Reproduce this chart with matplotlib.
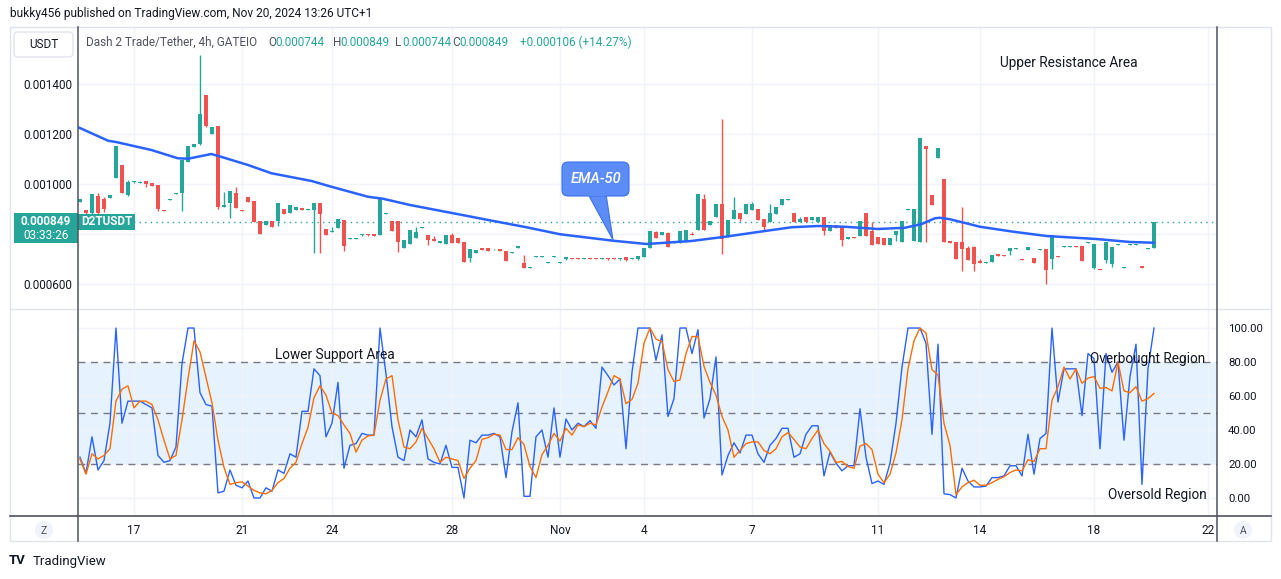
import numpy as np
import matplotlib
matplotlib.use("Agg")
import matplotlib.pyplot as plt
from matplotlib.patches import Rectangle, FancyBboxPatch, Polygon, Circle

plt.rcParams['font.family'] = ['Roboto', 'DejaVu Sans']

# D2T/USDT 4h candles, prices in millionths of USDT
opens = [929, 896, 883, 952, 940, 945, 1025, 1076, 956, 1007,
         1005, 1011, 1003, 996, 896, 937, 961, 965, 1089, 1149,
         1160, 1356, 1201, 1232, 909, 925, 963, 896, 948, 932,
         852, 837, 851, 851, 900, 884, 897, 903, 896, 897,
         924, 820, 809, 825, 857, 781, 781, 795, 800, 799,
         796, 881, 852, 852, 745, 761, 785, 824, 796, 780,
         765, 761, 796, 785, 769, 705, 725, 743, 744, 739,
         740, 732, 725, 745, 684, 665, 709, 709, 685, 709,
         685, 699, 705, 705, 701, 705, 705, 701, 705, 705,
         699, 707, 701, 699, 709, 745, 808, 797, 803, 764,
         765, 769, 800, 817, 941, 836, 869, 920, 788, 861,
         884, 881, 896, 900, 860, 849, 881, 917, 937, 884,
         849, 868, 856, 849, 868, 813, 836, 832, 781, 788,
         792, 884, 812, 788, 784, 757, 796, 769, 897, 773,
         769, 1152, 956, 1104, 1020, 772, 768, 768, 744, 748,
         692, 685, 689, 720, 716, 733, 741, 700, 737, 704,
         737, 740, 701, 712, 748, 748, 752, 752, 765, 665,
         660, 696, 680, 757, 665, 757, 757, 672, 741, 744]
highs = [942, 898, 962, 963, 949, 957, 1153, 1078, 1016, 1012,
         1011, 1012, 1004, 997, 897, 941, 965, 1097, 1153, 1161,
         1516, 1357, 1229, 1233, 967, 973, 989, 897, 949, 933,
         853, 853, 852, 925, 901, 917, 909, 904, 900, 925,
         925, 821, 827, 861, 858, 785, 785, 800, 801, 800,
         945, 885, 853, 853, 777, 817, 827, 828, 797, 793,
         774, 797, 804, 786, 770, 741, 737, 746, 745, 742,
         741, 733, 729, 753, 716, 669, 713, 713, 689, 713,
         689, 709, 706, 706, 706, 706, 706, 706, 706, 706,
         706, 708, 706, 713, 746, 813, 812, 809, 808, 767,
         813, 817, 808, 961, 960, 853, 921, 1260, 857, 947,
         885, 921, 928, 901, 861, 920, 909, 941, 941, 885,
         868, 869, 869, 869, 869, 837, 837, 833, 789, 789,
         853, 885, 848, 789, 785, 785, 813, 853, 901, 901,
         1185, 1153, 957, 1145, 1021, 773, 769, 908, 752, 752,
         700, 689, 717, 721, 717, 745, 745, 701, 749, 705,
         741, 741, 797, 713, 752, 752, 753, 753, 769, 761,
         661, 769, 749, 761, 669, 761, 761, 673, 745, 849]
lows = [927, 881, 881, 881, 889, 944, 1024, 963, 952, 1006,
        1004, 989, 992, 893, 892, 936, 960, 893, 1088, 1148,
        1158, 1230, 1200, 899, 908, 863, 904, 892, 928, 848,
        800, 836, 828, 833, 880, 883, 896, 896, 895, 723,
        723, 796, 808, 824, 733, 780, 780, 794, 794, 792,
        795, 880, 812, 729, 744, 760, 784, 823, 756, 772,
        764, 760, 764, 764, 687, 687, 724, 735, 731, 738,
        732, 692, 724, 744, 664, 664, 708, 708, 684, 708,
        684, 698, 700, 700, 700, 700, 700, 700, 698, 700,
        698, 694, 700, 698, 708, 744, 784, 796, 748, 763,
        764, 768, 796, 816, 816, 835, 868, 720, 787, 860,
        852, 880, 895, 855, 812, 848, 880, 916, 936, 848,
        848, 848, 855, 848, 797, 812, 824, 753, 780, 784,
        791, 792, 756, 760, 756, 756, 772, 768, 896, 772,
        768, 769, 915, 1103, 768, 764, 699, 653, 695, 653,
        684, 684, 688, 712, 712, 716, 740, 696, 736, 684,
        736, 600, 661, 708, 747, 747, 748, 692, 764, 661,
        656, 685, 669, 756, 664, 756, 756, 664, 740, 744]
closes = [940, 883, 960, 883, 900, 956, 1152, 965, 1008, 1011,
          1010, 1000, 993, 901, 893, 940, 964, 1096, 1152, 1160,
          1280, 1232, 1228, 909, 916, 972, 905, 893, 929, 849,
          801, 852, 829, 924, 881, 916, 908, 897, 899, 924,
          881, 797, 812, 860, 753, 784, 784, 799, 795, 793,
          944, 884, 813, 769, 776, 816, 808, 827, 776, 773,
          773, 796, 765, 765, 688, 740, 736, 736, 732, 741,
          733, 693, 728, 752, 665, 668, 712, 712, 688, 712,
          688, 708, 701, 701, 705, 701, 701, 705, 699, 701,
          705, 695, 705, 712, 745, 812, 785, 808, 749, 766,
          812, 816, 797, 960, 817, 852, 920, 781, 856, 896,
          859, 920, 920, 856, 828, 884, 908, 940, 940, 849,
          860, 849, 868, 868, 813, 836, 825, 777, 788, 785,
          852, 793, 757, 761, 757, 784, 812, 852, 900, 900,
          1184, 1141, 916, 1144, 769, 765, 700, 740, 696, 680,
          685, 688, 716, 713, 713, 744, 744, 697, 748, 685,
          740, 656, 796, 709, 751, 751, 749, 693, 768, 760,
          657, 768, 748, 760, 668, 760, 760, 665, 744, 849]

# EMA-50 (bar index, price in millionths)
ema_bar = [-0.3, 4.7, 6, 11.9, 16.3, 18, 21.9, 23.5, 28, 31.9, 38.6, 41.9, 48,
           50.5, 55, 62.2, 68.9, 74.4, 80, 88.9, 94.4, 101.9, 107.5, 113,
           118.6, 123, 127.5, 133, 137.5, 140.3, 142.5, 143.3, 145, 150,
           155.6, 161.1, 169.4, 175, 179]
ema_val = [1227, 1173, 1168, 1136, 1103, 1101, 1120, 1109, 1076, 1043, 1012, 989,
           949, 941, 916, 883, 852, 827, 799, 773, 760, 772, 789, 808, 827,
           832, 829, 820, 825, 840, 863, 865, 859, 829, 809, 792, 780, 768, 765]

# Stoch RSI
stoch_k = [24, 14.5, 36, 16.5, 22, 44, 100, 44, 57, 57,
           57, 55, 53, 25, 21, 22, 30, 79, 100, 100,
           62, 55, 54, 3, 4, 16.5, 7.5, 6, 10, 0,
           0, 6, 4, 16.5, 14.5, 26, 24, 51, 51, 76,
           72, 36, 44, 68, 17.5, 31, 32, 38, 37, 37,
           100, 73, 42, 24, 22, 40, 36, 46, 23, 21,
           20, 31, 18, 18, 0, 34, 32.5, 37, 37, 38,
           36, 12, 39, 56, 1, 1, 36, 40, 24, 53,
           24, 46.5, 40, 44, 42, 45.5, 41, 77, 72, 66.5,
           70, 29, 74, 100, 100,
           100, 81, 96, 48, 58.5, 100, 100, 85, 99, 47,
           58.5, 83, 13.5, 25, 32.5, 26.5, 37, 37, 26, 21,
           31, 35, 41, 41, 24, 26, 37.5, 42.5, 42.5, 13,
           27, 20.5, 16, 19, 19, 52.5, 24, 8.5, 10, 8,
           20.5, 44, 77, 100, 100, 100, 91, 37.5, 90.5, 2.5,
           2, 0, 17.5, 10, 6.5, 6.5, 7, 12, 12, 13,
           19, 19, 13, 37.5, 14, 35, 38, 100, 56.5, 76,
           76, 76, 48.5, 85, 82, 29, 85, 74, 80, 34,
           71.5, 90.5, 8, 76, 100]
stoch_d = [23, 14, 26, 23, 25, 29, 57, 64, 66, 53,
           57, 57, 55, 46, 34, 23, 25, 46, 70, 92.5,
           86, 71, 56, 34, 18, 8, 9, 9.5, 7, 4.5,
           3, 2.5, 4.5, 9, 11.5, 17.5, 21, 32, 41.5, 59,
           66, 60.5, 50, 48.5, 43, 38, 27, 34, 36.5, 37,
           57.5, 70, 72, 46, 30, 29, 33, 41, 35, 29,
           21, 24, 23, 22, 11.5, 17.5, 22, 34.5, 35.5, 37.5,
           37, 28.5, 28.5, 35.5, 31.5, 18.5, 12, 25.5, 31, 38,
           33.5, 41, 37, 43, 42, 44, 43, 53.5, 62.5, 72,
           70, 55.5, 58, 67.5, 91,
           100, 93.5, 92, 75.5, 68.5, 69.5, 85, 95, 95, 77.5,
           68, 60.5, 48, 40, 24, 28, 32, 33, 33, 28,
           26, 29, 36, 38.5, 34.5, 30, 29, 35, 40, 32,
           27.5, 21, 21.5, 18.5, 17.5, 30.5, 32, 28.5, 14, 9,
           14, 26.5, 46, 76, 92.5, 100, 97, 75.5, 72.5, 44,
           31, 2, 6.5, 9, 10.5, 7.5, 7.5, 9, 11, 12.5,
           15, 16.5, 16, 22.5, 21.5, 29, 29, 57.5, 65.5, 77,
           70, 76, 67.5, 70.5, 71.5, 64.5, 65, 63, 80, 63,
           62, 65.5, 57, 58.5, 61.5]

day_ticks = [9, 27, 42, 62, 80, 94, 112, 133, 150, 169, 188]
day_labels = ['17', '21', '24', '28', 'Nov', '4', '7', '11', '14', '18', '22']
price_ticks = [600, 800, 1000, 1200, 1400]
last_price = 849

TEAL = '#26a69a'
RED = '#ef5350'
GRID = '#f0f3fa'
TXT = '#131722'

W, H = 1281, 579
fig = plt.figure(figsize=(W / 100, H / 100), dpi=100)


def px_axes(x0, y0, x1, y1):
    return fig.add_axes([x0 / W, 1 - y1 / H, (x1 - x0) / W, (y1 - y0) / H])


# ---- price pane
ax = px_axes(78, 28, 1217, 308)
o = np.array(opens) * 1e-6
h = np.array(highs) * 1e-6
l = np.array(lows) * 1e-6
c = np.array(closes) * 1e-6
x = np.arange(len(o))
cols = np.where(c >= o, TEAL, RED)
ax.vlines(x, l, h, colors=cols, lw=1, zorder=3)
ax.bar(x, np.maximum(np.abs(c - o), 3e-6), bottom=np.minimum(o, c), width=0.8,
       color=cols, linewidth=0, zorder=4)
ax.plot(ema_bar, np.array(ema_val) * 1e-6, color='#2962ff', lw=1.8, zorder=5)
ax.axhline(last_price * 1e-6, color=TEAL, lw=1, linestyle=(0, (1, 3)), zorder=2)

ax.set_xlim(-0.33, 189.5)
ax.set_ylim(504e-6, 1624e-6)
ax.set_xticks(day_ticks)
ax.set_yticks([p * 1e-6 for p in price_ticks])
ax.set_yticklabels(['0.000600', '', '0.001000', '0.001200', '0.001400'])
ax.tick_params(axis='x', bottom=False, labelbottom=False)
ax.tick_params(axis='y', left=False, length=0, labelsize=8.5, labelcolor=TXT, pad=4.3)
ax.grid(True, color=GRID, lw=1)
ax.set_axisbelow(True)
for s in ax.spines.values():
    s.set_visible(False)

# ---- stoch RSI pane
osc = px_axes(78, 309, 1217, 515)
osc.axhspan(20, 80, color='#e6f2fd', zorder=0, lw=0)
for lvl in (80, 50, 20):
    osc.axhline(lvl, color='#787b86', lw=1, linestyle=(0, (5, 4)), zorder=2)
osc.plot(np.arange(len(stoch_k)), stoch_k, color='#2962ff', lw=1, zorder=4)
osc.plot(np.arange(len(stoch_d)), stoch_d, color='#ff6d00', lw=1, zorder=5)
osc.set_xlim(-0.33, 189.5)
osc.set_ylim(-10, 111.2)
osc.set_yticks([0, 20, 40, 60, 80, 100])
osc.set_yticklabels(['0.00', '20.00', '40.00', '60.00', '80.00', '100.00'])
osc.yaxis.tick_right()
osc.tick_params(axis='y', right=False, length=0, labelsize=8.2, labelcolor=TXT, pad=8)
osc.set_xticks(day_ticks)
osc.set_xticklabels(day_labels)
osc.tick_params(axis='x', bottom=False, length=0, labelsize=8.5, labelcolor=TXT, pad=6.8)
osc.grid(True, color=GRID, lw=1)
osc.set_axisbelow(True)
for s in osc.spines.values():
    s.set_visible(False)

# ---- overlay for frame, labels and notes (pixel coordinates)
deco = fig.add_axes([0, 0, 1, 1])
deco.set_xlim(0, W)
deco.set_ylim(H, 0)
deco.axis('off')
deco.patch.set_alpha(0)

deco.add_patch(Rectangle((10, 27), 1261, 514, fill=False, ec='#e0e3eb', lw=1))
deco.plot([10, 1271], [308.5, 308.5], color='#e0e3eb', lw=1)
deco.plot([10, 1271], [515.5, 515.5], color='#50535e', lw=1.2)
deco.plot([78, 78], [27, 541], color='#50535e', lw=1.1)
deco.plot([1217, 1217], [27, 541], color='#50535e', lw=1.1)

deco.text(10, 14, 'bukky456 published on TradingView.com, Nov 20, 2024 13:26 UTC+1',
          fontsize=8.6, color=TXT, va='center')

deco.add_patch(FancyBboxPatch((14, 32), 59, 25, boxstyle='round,pad=0,rounding_size=4',
                              fc='white', ec='#e0e3eb', lw=1))
deco.text(43.5, 44.5, 'USDT', fontsize=8.5, color=TXT, ha='center', va='center')

legend_y = 42
deco.text(86, legend_y, 'Dash 2 Trade/Tether, 4h, GATEIO', fontsize=8.5, color='#50535e', va='center')
for lx, lab, val in [(268, 'O', '0.000744'), (333, 'H', '0.000849'),
                     (395, 'L', '0.000744'), (452, 'C', '0.000849')]:
    deco.text(lx, legend_y, lab, fontsize=8.5, color='#50535e', va='center')
    deco.text(lx + 7, legend_y, val, fontsize=8.5, color=TEAL, va='center')
deco.text(520, legend_y, '+0.000106 (+14.27%)', fontsize=8.5, color=TEAL, va='center')

# last price tag
deco.add_patch(Rectangle((14, 213), 64, 30, fc=TEAL, ec='none'))
deco.text(46, 221.5, '0.000849', fontsize=8.5, color='white', weight='bold', ha='center', va='center')
deco.text(46, 235.5, '03:33:26', fontsize=8.5, color='white', ha='center', va='center')
deco.add_patch(Rectangle((78, 213.5), 57, 16, fc=TEAL, ec='none'))
deco.text(106.5, 221.5, 'D2TUSDT', fontsize=8.5, color='white', weight='bold', ha='center', va='center')

# EMA-50 callout
deco.add_patch(Polygon([(588, 194), (606, 194), (613, 240)], closed=True,
                       fc='#5b8cf7', ec='#3d74e8', lw=0.8))
deco.add_patch(FancyBboxPatch((562, 162), 67, 34, boxstyle='round,pad=0,rounding_size=6',
                              fc='#5b8cf7', ec='#3d74e8', lw=0.8))
deco.add_patch(Rectangle((589, 190), 16, 6, fc='#5b8cf7', ec='none'))
deco.text(596, 179, 'EMA-50', fontsize=10.5, color='white', style='italic',
          weight='medium', ha='center', va='center')

deco.text(1000, 63, 'Upper Resistance Area', fontsize=9.8, color=TXT, va='center')
deco.text(275, 355, 'Lower Support Area', fontsize=9.8, color=TXT, va='center')
deco.text(1090, 359, 'Overbought Region', fontsize=9.8, color=TXT, va='center')
deco.text(1108, 495, 'Oversold Region', fontsize=9.8, color=TXT, va='center')

for cx, letter in [(44, 'Z'), (1243, 'A')]:
    deco.add_patch(Circle((cx, 530), 9, fc='#f0f3fa', ec='none'))
    deco.text(cx, 530.5, letter, fontsize=7.5, color='#50535e', ha='center', va='center')

deco.text(9, 561, 'TV', fontsize=9.5, color=TXT, weight='bold', va='center')
deco.text(33, 561, 'TradingView', fontsize=9.5, color=TXT, va='center')

fig.savefig('out.png', dpi=100)
